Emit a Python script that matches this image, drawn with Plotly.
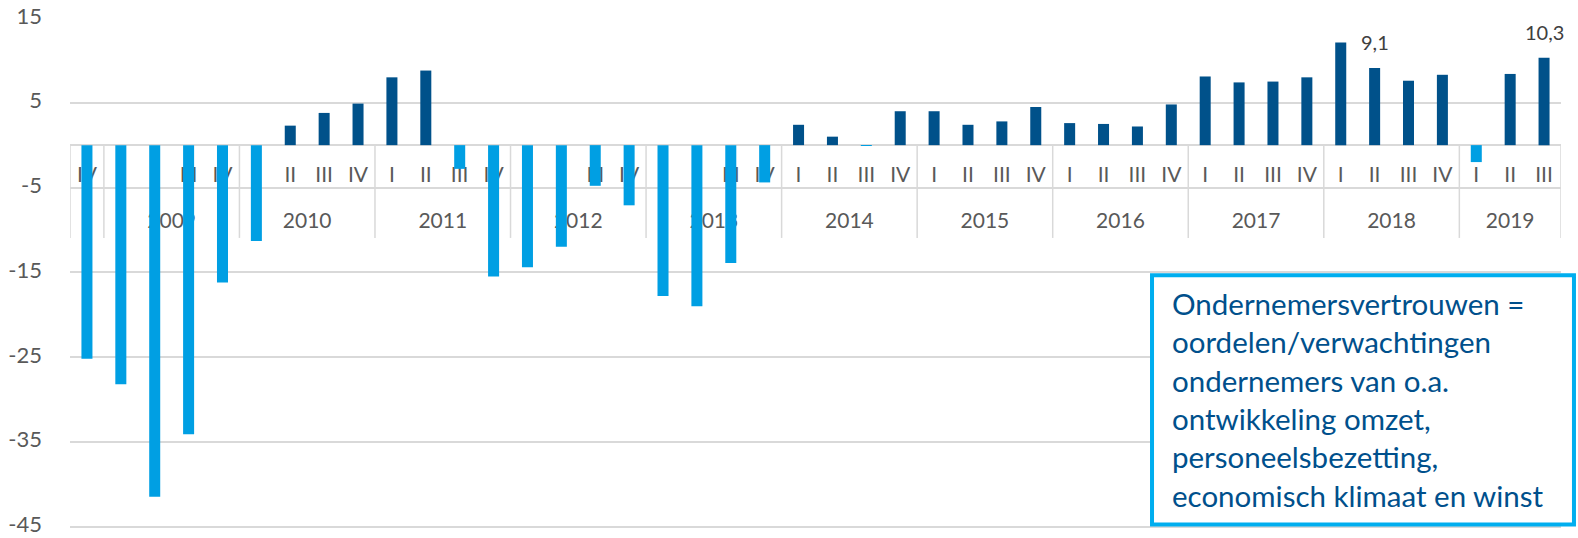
import plotly.graph_objects as go

# ---------------- data ----------------
years = ["2008",
         "2009", "2009", "2009", "2009",
         "2010", "2010", "2010", "2010",
         "2011", "2011", "2011", "2011",
         "2012", "2012", "2012", "2012",
         "2013", "2013", "2013", "2013",
         "2014", "2014", "2014", "2014",
         "2015", "2015", "2015", "2015",
         "2016", "2016", "2016", "2016",
         "2017", "2017", "2017", "2017",
         "2018", "2018", "2018", "2018",
         "2019", "2019", "2019"]
quarters = ["IV",
            "I", "II", "III", "IV",
            "I", "II", "III", "IV",
            "I", "II", "III", "IV",
            "I", "II", "III", "IV",
            "I", "II", "III", "IV",
            "I", "II", "III", "IV",
            "I", "II", "III", "IV",
            "I", "II", "III", "IV",
            "I", "II", "III", "IV",
            "I", "II", "III", "IV",
            "I", "II", "III"]
values = [-25.2,
          -28.2, -41.5, -34.1, -16.2,
          -11.3, 2.3, 3.8, 4.9,
          8.0, 8.8, -2.8, -15.5,
          -14.4, -12.0, -4.8, -7.1,
          -17.8, -19.0, -13.9, -4.4,
          2.4, 1.0, -0.1, 4.0,
          4.0, 2.4, 2.8, 4.5,
          2.6, 2.5, 2.2, 4.8,
          8.1, 7.4, 7.5, 8.0,
          12.1, 9.1, 7.6, 8.3,
          -2.0, 8.4, 10.3]
labelled = ["2018 II", "2019 III"]          # bars with a data label
hidden_year_labels = ["2008"]                # group too narrow for its label
y_ticks = [15, 5, -5, -15, -25, -35, -45]
note_lines = ["Ondernemersvertrouwen =",
              "oordelen/verwachtingen",
              "ondernemers van o.a.",
              "ontwikkeling omzet,",
              "personeelsbezetting,",
              "economisch klimaat en winst"]

# ---------------- styling ----------------
POS = "#00518A"
NEG = "#009FE3"
GRID = "#D9D9D9"
AXTXT = "#595959"
FONT = "Lato"
YMIN, YMAX = -46.0, 15.0
Q_LABEL_Y = -3.77
YEAR_LABEL_Y = -9.14
SEP_BOTTOM = -10.95

n = len(values)
xs = list(range(n))
colors = [POS if v >= 0 else NEG for v in values]

# year groups
groups = []
for i, yv in enumerate(years):
    if groups and groups[-1][0] == yv:
        groups[-1][2] = i
    else:
        groups.append([yv, i, i])

fig = go.Figure()

# quarter + year labels on the base subplot (drawn beneath the bars)
fig.add_trace(go.Scatter(
    x=xs, y=[Q_LABEL_Y] * n, text=quarters, mode="text",
    textposition="middle center",
    textfont=dict(family=FONT, size=21, color=AXTXT),
    hoverinfo="skip", showlegend=False, xaxis="x", yaxis="y"))
gx = [(g[1] + g[2]) / 2 for g in groups]
gt = ["" if g[0] in hidden_year_labels else g[0] for g in groups]
fig.add_trace(go.Scatter(
    x=gx, y=[YEAR_LABEL_Y] * len(groups), text=gt, mode="text",
    textposition="middle center",
    textfont=dict(family=FONT, size=21, color=AXTXT),
    hoverinfo="skip", showlegend=False, xaxis="x", yaxis="y"))

# bars on an overlaying subplot so they sit on top of the labels
fig.add_trace(go.Bar(
    x=xs, y=values, marker=dict(color=colors, line=dict(width=0)),
    width=0.325, showlegend=False, xaxis="x2", yaxis="y2"))

# group separators of the category axis
bounds = [groups[0][1] - 0.5] + [g[2] + 0.5 for g in groups]
for b in bounds:
    fig.add_shape(type="line", xref="x", yref="y", x0=b, x1=b,
                  y0=0, y1=SEP_BOTTOM, line=dict(color=GRID, width=1.5),
                  layer="below")

# data labels
keys = [f"{y} {q}" for y, q in zip(years, quarters)]
for k in labelled:
    i = keys.index(k)
    fig.add_annotation(x=i, y=values[i], xref="x", yref="y",
                       text=f"{values[i]:.1f}".replace(".", ","),
                       showarrow=False, yshift=26,
                       font=dict(family=FONT, size=20, color="#404040"))

# note box (paper coords; plot area spans 18..535 px vertically)
fig.add_shape(type="rect", xref="paper", yref="paper",
              x0=0.7257, x1=1.0087, y0=0.0201, y1=0.5022,
              line=dict(color="#00AEEF", width=4), fillcolor="white",
              layer="above")
fig.add_annotation(xref="paper", yref="paper", x=0.738, y=0.2615,
                   xanchor="left", yanchor="middle", align="left",
                   text="<br>".join(note_lines), showarrow=False,
                   font=dict(family=FONT, size=29.5, color="#00508C"))

fig.update_layout(
    width=1578, height=538,
    margin=dict(l=70, r=17, t=18, b=3, autoexpand=False),
    paper_bgcolor="white", plot_bgcolor="white",
    showlegend=False,
    xaxis=dict(range=[-0.5, n - 0.5], showgrid=False, zeroline=False,
               showticklabels=False, showline=False, fixedrange=True,
               automargin=False),
    yaxis=dict(range=[YMIN, YMAX], tickmode="array", tickvals=y_ticks,
               ticktext=[str(t) for t in y_ticks], automargin=False,
               ticklabeloverflow="allow", ticklabelshift=-2,
               showgrid=True, gridcolor=GRID, gridwidth=1.5,
               zeroline=True, zerolinecolor=GRID, zerolinewidth=1.5,
               showline=False, ticks="", ticklabelstandoff=27,
               tickfont=dict(family=FONT, size=22, color=AXTXT)),
    xaxis2=dict(overlaying="x", range=[-0.5, n - 0.5], visible=False),
    yaxis2=dict(overlaying="y", range=[YMIN, YMAX], visible=False),
)

fig.write_html(
    "out.html",
    config={"displayModeBar": False},
    post_script="document.body.style.margin='0';"
                "document.body.style.padding='0';"
                "document.body.style.overflow='hidden';"
                "document.documentElement.style.overflow='hidden';")
